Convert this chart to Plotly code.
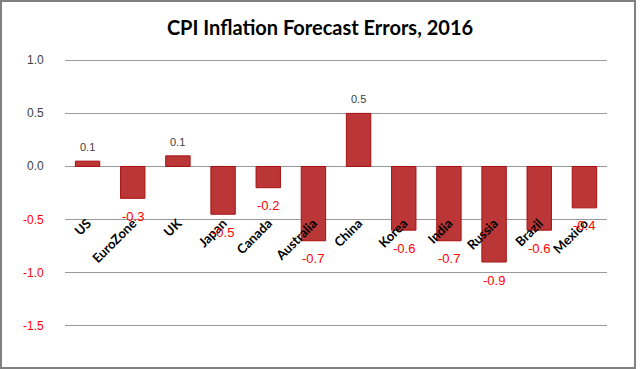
import plotly.graph_objects as go

countries = ["US", "EuroZone", "UK", "Japan", "Canada", "Australia", "China",
             "Korea", "India", "Russia", "Brazil", "Mexico"]
errors = [0.05, -0.3, 0.1, -0.45, -0.2, -0.7, 0.5, -0.6, -0.7, -0.9, -0.6, -0.39]
ytick_vals = [1.0, 0.5, 0.0, -0.5, -1.0, -1.5]

POS_COLOR = "#404040"
NEG_COLOR = "#FF0000"

fig = go.Figure()
fig.add_trace(go.Bar(
    x=countries, y=errors,
    marker=dict(color="#BB3636", line=dict(color="#A81010", width=1)),
    width=0.54,
    hoverinfo="x+y",
))

annotations = []
for c, v in zip(countries, errors):
    neg = v < 0
    annotations.append(dict(
        x=c, y=v, xref="x", yref="y",
        text=f"{v:.1f}", showarrow=False,
        yshift=-18 if neg else 14,
        font=dict(family="Liberation Sans, Arial", size=13 if neg else 11,
                  color=NEG_COLOR if neg else POS_COLOR),
    ))
for v in ytick_vals:
    annotations.append(dict(
        x=-0.035, y=v, xref="paper", yref="y",
        text=f"{v:.1f}", showarrow=False, xanchor="right", yanchor="middle",
        font=dict(family="Liberation Sans, Arial", size=12,
                  color=NEG_COLOR if v < 0 else POS_COLOR),
    ))

fig.update_layout(
    width=640, height=369,
    margin=dict(l=65, r=33, t=55, b=38, autoexpand=False),
    paper_bgcolor="white", plot_bgcolor="white",
    title=dict(text="<b>CPI Inflation Forecast Errors, 2016</b>",
               x=0.5, xanchor="center", y=0.925, yanchor="middle",
               font=dict(family="Lato, Carlito, Calibri", size=20, color="#000000")),
    showlegend=False,
    annotations=annotations,
    shapes=[dict(type="rect", xref="paper", yref="paper",
                 x0=-64/542, x1=(635-65)/542, y0=-37/276, y1=1 + 54/276,
                 line=dict(color="#808080", width=2), fillcolor="rgba(0,0,0,0)",
                 layer="below")],
)
fig.update_xaxes(
    anchor="free", position=0.43, automargin=False,
    tickangle=-45, showline=False, showgrid=False, ticks="",
    tickfont=dict(family="Lato, Carlito, Calibri", size=13, color="#000000",
                  weight="bold"),
    range=[-0.5, 11.5],
)
fig.update_yaxes(
    range=[-1.55, 1.05], tickvals=ytick_vals, showticklabels=False,
    automargin=False,
    showgrid=True, gridcolor="#999999", gridwidth=1,
    zeroline=True, zerolinecolor="#999999", zerolinewidth=1,
    showline=False, ticks="",
)

fig.write_html("out.html", config={"displayModeBar": False},
               post_script="document.body.style.margin='0px';")
